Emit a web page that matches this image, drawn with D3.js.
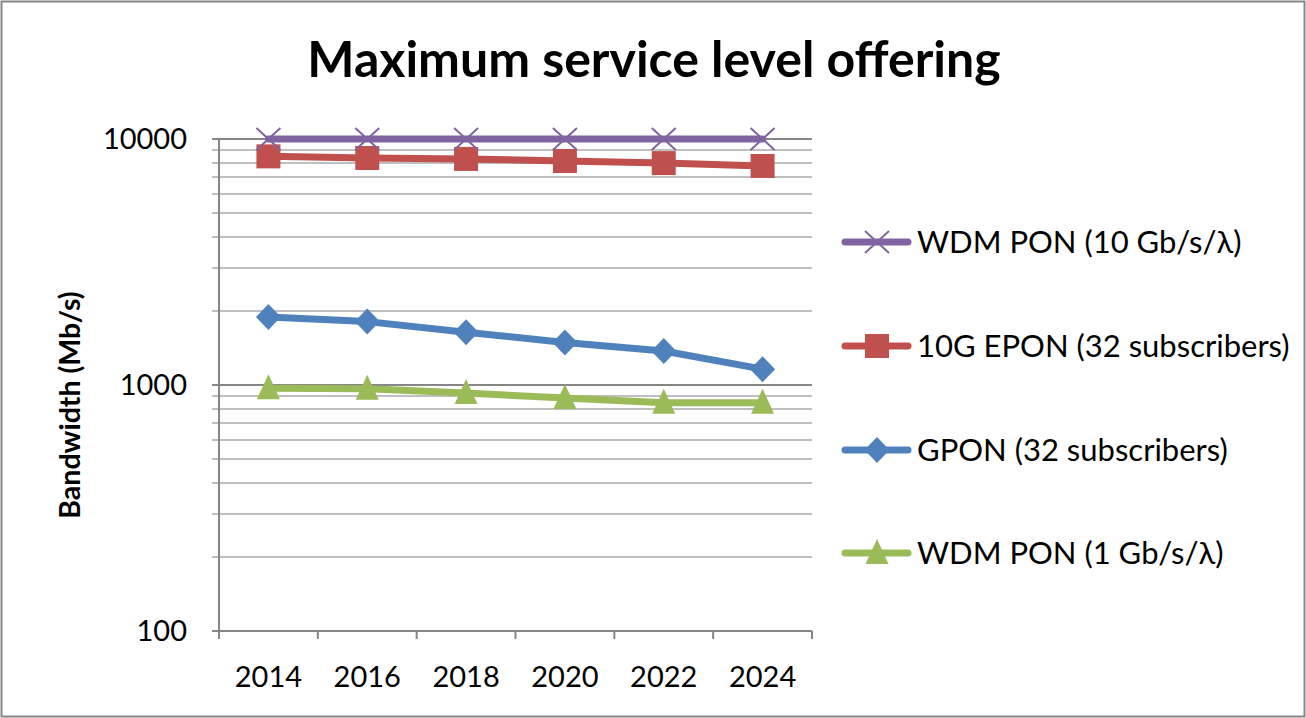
<!doctype html>
<html>
<head>
<script src="https://d3js.org/d3.v7.min.js"></script>
<style>
  body { margin: 0; background: #fff; }
  text { font-family: Lato, "Open Sans", sans-serif; fill: #000; }
</style>
</head>
<body>
<svg width="1306" height="718" id="chart"></svg>
<script>
// data
var years = ["2014", "2016", "2018", "2020", "2022", "2024"];
var wdm10 = [10000, 10000, 10000, 10000, 10000, 10000];
var epon10g = [8500, 8370, 8300, 8140, 7980, 7770];
var gpon = [1890, 1810, 1640, 1490, 1375, 1160];
var wdm1 = [970, 965, 927, 886, 846, 846];
var yTickLabels = [100, 1000, 10000];

var series = [
  { name: "WDM PON (10 Gb/s/\u03bb)", values: wdm10, color: "#8064A2", marker: "x" },
  { name: "10G EPON (32 subscribers)", values: epon10g, color: "#C0504D", marker: "square" },
  { name: "GPON (32 subscribers)", values: gpon, color: "#4F81BD", marker: "diamond" },
  { name: "WDM PON (1 Gb/s/\u03bb)", values: wdm1, color: "#9BBB59", marker: "triangle" }
];

var svg = d3.select("#chart");

// chart border
svg.append("rect")
  .attr("x", 1.5).attr("y", 1.5)
  .attr("width", 1303).attr("height", 715)
  .attr("fill", "#fff")
  .attr("stroke", "#868686")
  .attr("stroke-width", 2);

var plotLeft = 219, plotRight = 812, plotTop = 139, plotBottom = 631;

var x = d3.scaleBand().domain(years).range([plotLeft, plotRight]).padding(0);
var y = d3.scaleLog().domain([100, 10000]).range([plotBottom, plotTop]);

// title
svg.append("text")
  .attr("x", 654).attr("y", 77)
  .attr("text-anchor", "middle")
  .style("font-weight", "bold")
  .style("font-size", "50px")
  .text("Maximum service level offering");

// gridlines (major + minor)
var gridVals = y.ticks();
svg.append("g").selectAll("line")
  .data(gridVals)
  .enter().append("line")
  .attr("x1", plotLeft - 7).attr("x2", plotRight)
  .attr("y1", function (d) { return Math.round(y(d)); })
  .attr("y2", function (d) { return Math.round(y(d)); })
  .attr("stroke", function (d) { return yTickLabels.indexOf(d) >= 0 ? "#868686" : "#bfbfbf"; })
  .attr("stroke-width", 2);

// y axis line
svg.append("line")
  .attr("x1", plotLeft).attr("x2", plotLeft)
  .attr("y1", plotTop).attr("y2", plotBottom)
  .attr("stroke", "#868686").attr("stroke-width", 2);

// y tick labels
svg.append("g").selectAll("text")
  .data(yTickLabels)
  .enter().append("text")
  .attr("x", 187)
  .attr("y", function (d) { return y(d); })
  .attr("dy", "0.35em")
  .attr("text-anchor", "end")
  .style("font-size", "29px")
  .text(function (d) { return d; });

// x axis
var xAxis = svg.append("g")
  .attr("transform", "translate(0," + plotBottom + ")");
xAxis.append("line")
  .attr("x1", plotLeft - 7).attr("x2", plotRight)
  .attr("stroke", "#868686").attr("stroke-width", 2);
var bounds = years.map(function (d) { return x(d); }).concat([plotRight]);
xAxis.selectAll(".tick")
  .data(bounds)
  .enter().append("line")
  .attr("x1", function (d) { return d; }).attr("x2", function (d) { return d; })
  .attr("y1", 0).attr("y2", 8)
  .attr("stroke", "#868686").attr("stroke-width", 2);
xAxis.selectAll(".lbl")
  .data(years)
  .enter().append("text")
  .attr("x", function (d) { return x(d) + x.bandwidth() / 2; })
  .attr("y", 56)
  .attr("text-anchor", "middle")
  .style("font-size", "29px")
  .text(function (d) { return d; });

// y axis title
svg.append("text")
  .attr("transform", "translate(80,405)rotate(-90)")
  .attr("text-anchor", "middle")
  .style("font-weight", "bold")
  .style("font-size", "28.5px")
  .text("Bandwidth (Mb/s)");

function drawMarker(g, type, color) {
  if (type === "x") {
    g.append("path")
      .attr("d", "M-12,-11L12,11M-12,11L12,-11")
      .attr("stroke", color).attr("stroke-width", 2).attr("fill", "none");
  } else if (type === "square") {
    g.append("rect")
      .attr("x", -12).attr("y", -12).attr("width", 24).attr("height", 24)
      .attr("fill", color);
  } else if (type === "diamond") {
    g.append("path")
      .attr("d", "M0,-13L12.5,0L0,13L-12.5,0Z")
      .attr("fill", color);
  } else if (type === "triangle") {
    g.append("path")
      .attr("d", "M0,-14L11.5,11L-11.5,11Z")
      .attr("fill", color);
  }
}

var line = d3.line()
  .x(function (d, i) { return x(years[i]) + x.bandwidth() / 2; })
  .y(function (d) { return y(d); });

// draw series bottom-up so purple ends on top
series.slice().reverse().forEach(function (s) {
  var g = svg.append("g");
  g.append("path")
    .datum(s.values)
    .attr("d", line)
    .attr("fill", "none")
    .attr("stroke", s.color)
    .attr("stroke-width", 7)
    .attr("stroke-linejoin", "round")
    .attr("stroke-linecap", "round");
  s.values.forEach(function (v, i) {
    var m = g.append("g")
      .attr("transform", "translate(" + (x(years[i]) + x.bandwidth() / 2) + "," + y(v) + ")");
    drawMarker(m, s.marker, s.color);
  });
});

// legend
var legendY = [242, 346, 450, 553];
series.forEach(function (s, i) {
  var g = svg.append("g").attr("transform", "translate(0," + legendY[i] + ")");
  g.append("line")
    .attr("x1", 845).attr("x2", 908)
    .attr("stroke", s.color).attr("stroke-width", 7)
    .attr("stroke-linecap", "round");
  var m = g.append("g").attr("transform", "translate(877,0)");
  drawMarker(m, s.marker, s.color);
  g.append("text")
    .attr("x", 917).attr("y", 0)
    .attr("dy", "0.35em")
    .style("font-size", "31px")
    .text(s.name);
});
</script>
</body>
</html>
